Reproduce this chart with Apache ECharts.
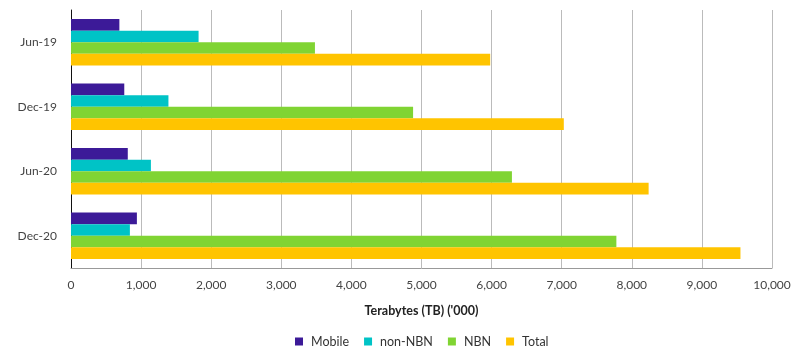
<!DOCTYPE html>
<html>
<head>
<meta charset="utf-8">
<script src="https://cdn.jsdelivr.net/npm/echarts@6/dist/echarts.min.js"></script>
<style>
  html, body { margin: 0; padding: 0; background: #fff; }
  #chart { width: 800px; height: 352px; }
</style>
</head>
<body>
<div id="chart"></div>
<script>
/* data */
const periods = ['Jun-19', 'Dec-19', 'Jun-20', 'Dec-20'];
const mobile = [690, 760, 810, 940];
const nonNbn = [1820, 1390, 1140, 840];
const nbn = [3480, 4880, 6290, 7780];
const total = [5980, 7030, 8240, 9550];

const chart = echarts.init(document.getElementById('chart'));

const font = 'Lato';

chart.setOption({
  backgroundColor: '#fff',
  animation: false,
  textStyle: { fontFamily: font },
  grid: { left: 71, right: 28, top: 10, bottom: 84 },
  legend: {
    top: 330,
    left: 290,
    itemWidth: 8,
    itemHeight: 8,
    itemGap: 15,
    icon: 'rect',
    textStyle: { fontSize: 12.5, color: '#333', fontFamily: font, padding: [0, 0, 0, 3] },
    data: ['Mobile', 'non-NBN', 'NBN', 'Total']
  },
  xAxis: {
    type: 'value',
    min: 0,
    max: 10000,
    interval: 1000,
    name: "Terabytes (TB) ('000)",
    nameLocation: 'middle',
    nameGap: 36,
    nameTextStyle: { fontSize: 12.5, fontWeight: 'bold', color: '#222', fontFamily: font },
    axisLine: { show: true, lineStyle: { color: '#999', width: 1 } },
    axisTick: { show: false },
    axisLabel: {
      fontSize: 12, color: '#444', margin: 11,
      formatter: v => v.toLocaleString('en-US')
    },
    splitLine: { show: true, lineStyle: { color: '#bbb', width: 1 } }
  },
  yAxis: {
    type: 'category',
    data: periods,
    inverse: true,
    axisLine: { show: true, lineStyle: { color: '#111', width: 1 } },
    axisTick: { show: false },
    axisLabel: { fontSize: 12, color: '#444', margin: 14 }
  },
  series: [
    { name: 'Mobile', type: 'bar', data: mobile, itemStyle: { color: '#3c1a98' }, barCategoryGap: '28%', barGap: '0%' },
    { name: 'non-NBN', type: 'bar', data: nonNbn, itemStyle: { color: '#00c3c6' }, barGap: '0%' },
    { name: 'NBN', type: 'bar', data: nbn, itemStyle: { color: '#80d433' }, barGap: '0%' },
    { name: 'Total', type: 'bar', data: total, itemStyle: { color: '#ffc400' }, barGap: '0%' }
  ]
});
</script>
</body>
</html>
